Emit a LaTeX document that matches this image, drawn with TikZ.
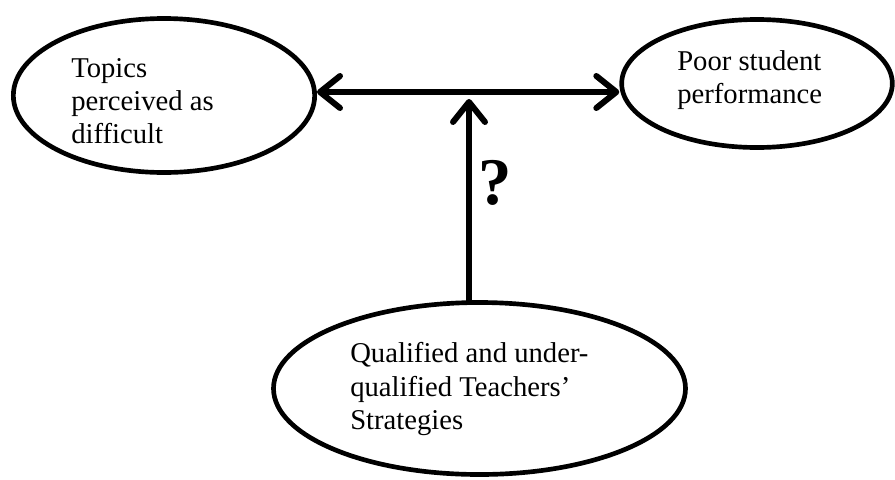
\documentclass[tikz,border=0pt]{standalone}
\usepackage{fontspec}
\setmainfont{Liberation Serif}
\usetikzlibrary{arrows.meta}
\usetikzlibrary{shapes.geometric}
\usetikzlibrary{positioning}

\tikzset{
	bubble/.style={draw, ellipse, line width=3.5pt, inner sep=0pt},
	caption/.style={align=left, inner sep=0pt, anchor=west, font=\fontsize{21.5}{25}\selectfont},
	link/.style={line width=4.5pt, line cap=round, -{Straight Barb[length=15pt,width=24pt,round]}},
	twolink/.style={link, {Straight Barb[length=15pt,width=24pt,round]}-{Straight Barb[length=15pt,width=24pt,round]}}
}

\begin{document}
\begin{tikzpicture}[x=0.75pt, y=-0.75pt]
		\useasboundingbox (0,0) rectangle (895,479);
		% the three ellipses
		\node[bubble, minimum width=226pt, minimum height=115.5pt] (topics) at (164,95.5) {};
		\node[bubble, minimum width=203pt, minimum height=96pt] (poor) at (757,83.5) {};
		\node[bubble, minimum width=309pt, minimum height=129pt] (teachers) at (479.5,388.5) {};
		\node[caption] (topicsText) at (71,101) {Topics\\perceived as\\difficult};
		\node[caption] (poorText) at (677,80) {Poor student\\performance};
		\node[caption] (teachersText) at (350,389) {Qualified and under-\\qualified Teachers'\\Strategies};
		% arrows
		\coordinate (axis) at (469,92);
		\coordinate (meet) at (469,99);
		\draw[twolink] (topics.east |- axis) -- (poor.west |- axis);
		\draw[link] (meet |- teachers.north) -- (meet);
		\node[font=\fontsize{50}{55}\selectfont\bfseries] (qmark) at (495,183) {?};
	    \end{tikzpicture}
\end{document}
